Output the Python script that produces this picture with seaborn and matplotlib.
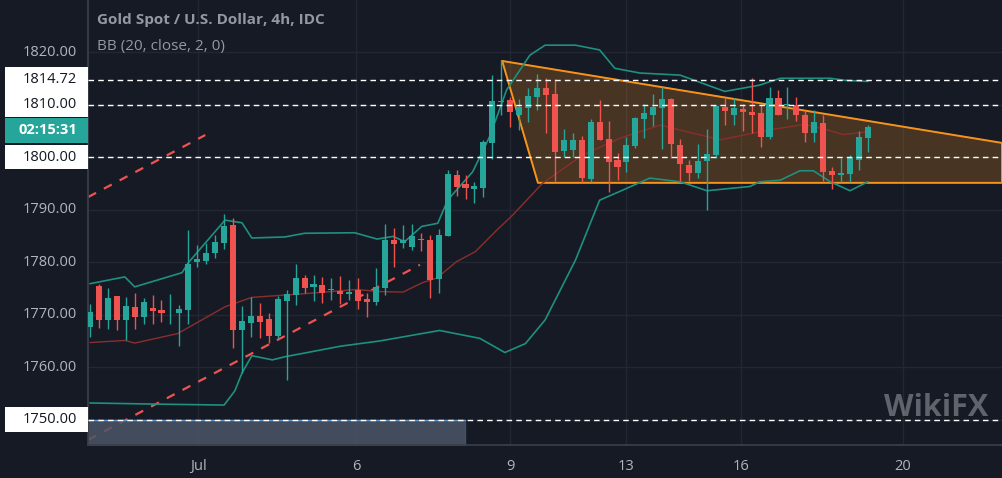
import numpy as np
import pandas as pd
import matplotlib
matplotlib.use("Agg")
import matplotlib.pyplot as plt
import matplotlib.transforms as mtransforms
from matplotlib.patches import Rectangle
import seaborn as sns

# Candles (4h)
opens = [1767.7, 1775.5, 1769.0, 1773.5, 1769.0, 1771.5, 1769.5, 1771.3, 1770.9, 1770.45,
         1770.4, 1770.9, 1780.0, 1780.3, 1781.8, 1783.6, 1787.1, 1767.0, 1768.5, 1769.8,
         1769.1, 1766.0, 1772.7, 1773.8, 1776.9, 1775.2, 1775.7, 1774.7, 1774.5, 1774.0,
         1774.7, 1773.0, 1772.5, 1775.1, 1784.2, 1783.7, 1782.8, 1784.4, 1784.2, 1776.8,
         1784.9, 1796.6, 1794.8, 1794.0, 1794.2, 1802.7, 1810.4, 1810.9, 1808.0, 1809.4,
         1811.5, 1813.1, 1812.1, 1801.2, 1801.4, 1803.3, 1795.8, 1806.6, 1803.4, 1799.5,
         1799.0, 1802.2, 1807.3, 1808.1, 1809.4, 1811.1, 1802.3, 1798.5, 1796.9, 1799.3,
         1800.4, 1809.6, 1808.0, 1809.2, 1808.6, 1808.3, 1803.9, 1811.2, 1810.0, 1810.0,
         1808.1, 1804.6, 1806.4, 1797.4, 1796.5, 1796.7, 1799.5, 1803.6]
highs = [1772.1, 1775.9, 1775.0, 1773.6, 1773.3, 1774.1, 1773.1, 1773.8, 1772.8, 1774.0,
         1771.9, 1786.1, 1783.3, 1783.6, 1785.2, 1789.2, 1788.5, 1771.7, 1773.3, 1772.2,
         1770.4, 1773.5, 1774.7, 1779.7, 1777.6, 1777.6, 1777.1, 1776.9, 1777.4, 1776.6,
         1776.9, 1774.1, 1778.8, 1787.3, 1786.5, 1787.1, 1787.3, 1785.5, 1785.2, 1786.3,
         1797.6, 1797.6, 1796.6, 1795.3, 1803.3, 1815.6, 1818.5, 1811.5, 1811.0, 1813.1,
         1815.9, 1815.1, 1814.9, 1805.4, 1804.5, 1804.0, 1807.2, 1810.9, 1806.9, 1800.7,
         1803.9, 1807.7, 1810.2, 1812.1, 1813.4, 1811.3, 1803.4, 1799.5, 1802.4, 1805.4,
         1810.0, 1811.3, 1811.3, 1810.2, 1815.1, 1810.0, 1813.4, 1812.8, 1813.4, 1811.5,
         1808.8, 1809.0, 1808.0, 1798.2, 1799.8, 1800.4, 1805.0, 1806.1]
lows = [1765.8, 1767.4, 1767.2, 1767.0, 1765.2, 1767.2, 1768.2, 1768.2, 1768.7, 1768.2,
        1764.1, 1768.2, 1779.0, 1779.7, 1780.7, 1782.6, 1763.6, 1758.9, 1765.8, 1765.5,
        1764.6, 1765.5, 1757.6, 1771.9, 1774.1, 1772.7, 1772.3, 1772.8, 1772.1, 1772.8,
        1771.1, 1769.5, 1771.9, 1773.8, 1779.0, 1782.7, 1782.3, 1782.2, 1773.1, 1774.2,
        1784.9, 1792.5, 1792.0, 1791.3, 1792.4, 1799.6, 1808.0, 1805.8, 1805.2, 1806.7,
        1809.0, 1804.5, 1795.5, 1800.1, 1800.1, 1795.3, 1795.3, 1803.3, 1793.3, 1795.6,
        1797.2, 1801.8, 1803.7, 1806.0, 1801.6, 1799.8, 1795.5, 1795.5, 1796.0, 1789.9,
        1799.9, 1806.2, 1806.2, 1805.0, 1804.5, 1802.0, 1803.4, 1808.0, 1807.3, 1806.9,
        1802.8, 1802.8, 1795.5, 1793.9, 1795.2, 1795.3, 1797.5, 1800.9]
closes = [1770.6, 1769.0, 1773.1, 1769.0, 1771.7, 1769.5, 1772.4, 1770.8, 1770.4, 1770.5,
          1771.0, 1779.7, 1780.6, 1781.8, 1783.9, 1786.9, 1767.1, 1768.8, 1769.8, 1768.7,
          1766.0, 1773.0, 1773.9, 1776.9, 1775.0, 1775.8, 1774.2, 1774.9, 1774.0, 1774.4,
          1772.7, 1772.5, 1775.2, 1784.2, 1783.5, 1784.2, 1784.9, 1784.2, 1776.6, 1785.2,
          1796.8, 1794.4, 1794.2, 1794.5, 1802.9, 1810.7, 1810.7, 1808.5, 1809.6, 1811.7,
          1813.1, 1811.9, 1801.0, 1803.3, 1803.3, 1796.1, 1806.6, 1803.3, 1799.1, 1798.2,
          1802.3, 1807.5, 1808.3, 1809.6, 1811.1, 1802.4, 1798.6, 1796.9, 1799.3, 1800.5,
          1809.8, 1808.8, 1809.3, 1808.5, 1808.1, 1803.9, 1811.2, 1808.0, 1810.1, 1808.0,
          1804.6, 1806.6, 1797.1, 1796.6, 1796.9, 1799.9, 1803.9, 1805.8]

# Bollinger band vertices (candle index, price)
upper_idx = [0, 3.9, 5.0, 10.3, 11.0, 15.1, 17.0, 18.1, 21.8, 24.0, 29.6, 32.1, 33.9, 35.2, 37.1,
             38.9, 40.0, 42.8, 44.7, 46.6, 49.2, 50.9, 54.3, 57.0, 58.7, 61.5, 66.0, 71.0, 74.9,
             77.2, 82.8, 84.5, 87.0]
upper_val = [1775.9, 1777.2, 1775.3, 1778.0, 1779.9, 1788.0, 1787.5, 1784.6, 1784.8, 1785.5,
             1785.6, 1784.4, 1784.9, 1783.9, 1786.8, 1787.4, 1791.8, 1797.2, 1803.9, 1812.8,
             1819.4, 1821.3, 1821.3, 1820.4, 1816.9, 1816.0, 1815.6, 1812.5, 1813.7, 1815.0,
             1815.0, 1814.6, 1814.4]
mid_idx = [0, 3.9, 5.0, 9.8, 12.5, 15.1, 18.1, 24.0, 29.8, 32.4, 35.0, 37.2, 38.8, 41.0, 43.1,
           45.5, 47.3, 50.6, 55.1, 59.3, 63.8, 66.8, 70.5, 76.1, 79.8, 82.0, 84.2, 87.0]
mid_val = [1764.7, 1765.1, 1764.6, 1766.4, 1769.0, 1771.5, 1773.3, 1774.0, 1774.8, 1774.4,
           1774.3, 1776.1, 1777.0, 1780.1, 1782.0, 1786.1, 1789.0, 1795.0, 1800.4, 1803.6,
           1806.1, 1804.8, 1803.3, 1805.2, 1806.2, 1805.4, 1804.3, 1804.8]
lower_idx = [0, 6.7, 15.0, 16.2, 17.0, 18.1, 20.4, 21.8, 24.0, 28.0, 32.4, 39.1, 43.6, 46.4,
             48.7, 50.9, 54.3, 57.0, 59.3, 62.6, 66.0, 69.0, 73.8, 74.9, 77.2, 79.4, 80.9,
             82.8, 85.0, 87.0]
lower_val = [1753.2, 1753.0, 1752.8, 1755.5, 1758.9, 1762.2, 1761.4, 1762.0, 1762.7, 1764.0,
             1765.0, 1767.0, 1765.5, 1762.8, 1764.5, 1769.0, 1780.4, 1791.8, 1793.5, 1796.0,
             1795.3, 1793.6, 1794.4, 1795.3, 1795.6, 1797.4, 1797.4, 1795.3, 1793.6, 1795.3]

# Drawings
triangle_idx = [46.1, 102.0, 102.0, 50.1]
triangle_val = [1818.3, 1802.7, 1795.1, 1795.1]
trend1_idx, trend1_val = [-0.2, 12.9], [1792.4, 1804.2]
trend2_idx, trend2_val = [-0.2, 36.9], [1746.2, 1779.5]
levels = [1814.72, 1810.0, 1800.0, 1750.0]
price_ticks = [1820, 1810, 1800, 1790, 1780, 1770, 1760, 1750]
date_ticks = [12.1, 29.8, 47.0, 60.0, 72.8, 90.9]
date_labels = ["Jul", "6", "9", "13", "16", "20"]

BG = "#161a25"
UP = "#26a69a"
DOWN = "#ef5350"

sns.set_theme(style="dark")
plt.rcParams["font.family"] = ["Open Sans", "DejaVu Sans"]

fig = plt.figure(figsize=(10.02, 4.78), dpi=100, facecolor=BG)
ax = fig.add_axes([88 / 1002, 33 / 478, 914 / 1002, 445 / 478])
ax.set_facecolor(BG)
ax.set_xlim(-0.22, 102.0)
ax.set_ylim(1745.2, 1829.9)

for xt in date_ticks:
    ax.axvline(xt, color="#232734", lw=1, zorder=0)
for yt in price_ticks:
    ax.axhline(yt, color="#232734", lw=1, zorder=0)

# Triangle pattern
ax.fill(triangle_idx, triangle_val, color="#f7931a", alpha=0.22, zorder=1)
ax.plot(triangle_idx + triangle_idx[:1], triangle_val + triangle_val[:1],
        color="#f7931a", lw=1.4, zorder=2)

# Bollinger bands
sns.lineplot(x=upper_idx, y=upper_val, ax=ax, color="#1e9080", lw=1.2, zorder=3)
sns.lineplot(x=mid_idx, y=mid_val, ax=ax, color="#8b2e2e", lw=1.0, zorder=3)
sns.lineplot(x=lower_idx, y=lower_val, ax=ax, color="#1e9080", lw=1.2, zorder=3)

# Trend lines
ax.plot(trend1_idx, trend1_val, color=DOWN, lw=1.6, ls=(0, (4, 4)), zorder=2)
ax.plot(trend2_idx, trend2_val, color=DOWN, lw=1.6, ls=(0, (4, 4)), zorder=2)

# Gray zone
ax.fill_between([-0.22, 41.9], 1745.2, 1750.0, color="#4a5668", alpha=0.85, zorder=2)
ax.plot([-0.22, 41.9], [1750.0, 1750.0], color="#5b9bd5", lw=1, zorder=2)

# Candles
df = pd.DataFrame({"o": opens, "h": highs, "l": lows, "c": closes})
df["i"] = np.arange(len(df))
df["col"] = np.where(df["c"] >= df["o"], UP, DOWN)
ax.vlines(df["i"], df["l"], df["h"], colors=df["col"], lw=1, zorder=4)
body = (df["c"] - df["o"]).abs().clip(lower=0.15)
ax.bar(df["i"], body, bottom=df[["o", "c"]].min(axis=1), width=0.68,
       color=df["col"], zorder=5, linewidth=0)

for lv in levels:
    ax.axhline(lv, color="white", lw=1, ls=(0, (4, 3)), zorder=6)

# Axes styling
ax.set_yticks([])
ax.set_xticks(date_ticks)
ax.set_xticklabels(date_labels, color="#b2b5be", fontsize=10.5)
ax.tick_params(axis="x", length=0, pad=10)
for s in ax.spines.values():
    s.set_visible(False)
ax.spines["left"].set_visible(True)
ax.spines["left"].set_color("#3a3e4a")
ax.spines["bottom"].set_visible(True)
ax.spines["bottom"].set_color("#3a3e4a")

# price scale labels, boxed ones span the full scale width
trans = mtransforms.blended_transform_factory(ax.transAxes, ax.transData)
box_w = 83 / 914
box_h = 2.35
boxed = {1814.72: "1814.72", 1810.0: "1810.00", 1800.0: "1800.00", 1750.0: "1750.00"}
for p in price_ticks:
    if float(p) in boxed:
        continue
    ax.text(-0.012, p, f"{p:.2f}", transform=trans, ha="right", va="center",
            color="#b2b5be", fontsize=10.5)
for p, t in boxed.items():
    ax.add_patch(Rectangle((-box_w, p - box_h), box_w, 2 * box_h, transform=trans,
                           fc="white", ec="none", clip_on=False, zorder=7))
    ax.text(-0.012, p, t, transform=trans, ha="right", va="center", color="#131722",
            fontsize=10.5, zorder=8)
ax.add_patch(Rectangle((-box_w, 1805.1 - box_h), box_w, 2 * box_h, transform=trans,
                       fc=UP, ec="none", clip_on=False, zorder=7))
ax.text(-0.012, 1805.1, "02:15:31", transform=trans, ha="right", va="center", color="white",
        fontsize=10.5, fontweight="bold", zorder=8)

ax.text(0.01, 0.955, "Gold Spot / U.S. Dollar, 4h, IDC", transform=ax.transAxes,
        color="#9598a1", fontsize=11, fontweight="bold", va="center")
ax.text(0.01, 0.895, "BB (20, close, 2, 0)", transform=ax.transAxes,
        color="#9598a1", fontsize=11, va="center")
ax.text(0.985, 0.05, "WikiFX", transform=ax.transAxes, color="#9aa0a8", alpha=0.55,
        fontsize=22, fontweight="bold", ha="right", va="bottom")

fig.savefig("out.png", dpi=100, facecolor=BG)
